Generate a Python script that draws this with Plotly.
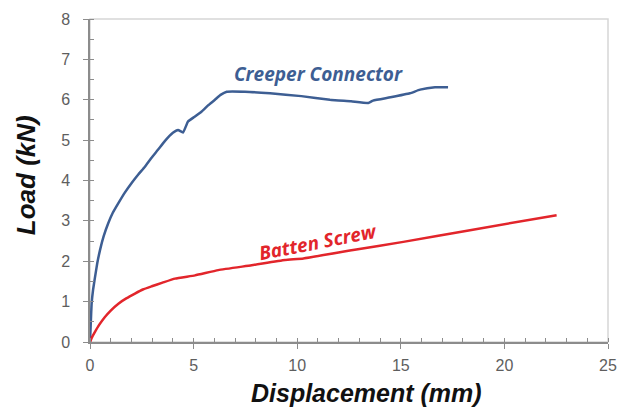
import plotly.graph_objects as go

# Creeper Connector load-displacement curve
creeper_x = [0, 0.04, 0.08, 0.15, 0.24, 0.35, 0.48, 0.66, 0.88, 1.1, 1.37, 1.68, 2.01, 2.33, 2.65, 2.95,
             3.28, 3.62, 4.0, 4.25, 4.49, 4.73, 5.05, 5.39, 5.7, 6.03, 6.3, 6.6, 7.48,
             8.69, 10.2, 11.58, 12.6, 13.43, 13.66, 14.5, 15.44, 15.93, 16.65, 17.28]
creeper_y = [0, 0.5, 0.96, 1.3, 1.6, 1.95, 2.27, 2.62, 2.94, 3.2, 3.44, 3.7, 3.94, 4.15, 4.34, 4.55,
             4.76, 4.98, 5.18, 5.25, 5.19, 5.46, 5.58, 5.71, 5.86, 6.0, 6.12, 6.2, 6.2,
             6.16, 6.09, 6.0, 5.96, 5.92, 5.98, 6.06, 6.16, 6.25, 6.31, 6.31]

# Batten Screw load-displacement curve
batten_x = [0, 0.1, 0.24, 0.45, 0.72, 1.0, 1.37, 1.75, 2.17, 2.55, 2.98, 3.5, 4.1, 5.07, 6.19, 7.8, 9.41,
            10.3, 12.7, 15.12, 18.34, 22.52]
batten_y = [0, 0.12, 0.25, 0.43, 0.62, 0.78, 0.95, 1.08, 1.2, 1.3, 1.38, 1.47, 1.57, 1.65, 1.78, 1.9, 2.03,
            2.07, 2.28, 2.48, 2.77, 3.14]

x_ticks = [0, 5, 10, 15, 20, 25]
y_ticks = [0, 1, 2, 3, 4, 5, 6, 7, 8]

BLUE = "#3d5e93"
RED = "#e2252b"
AXIS = "#8c8c8c"
TICKFONT = dict(family="Liberation Sans, Arial", size=16, color="#5e5e5e")
TITLEFONT = "Liberation Sans, Arial"

fig = go.Figure()
fig.add_trace(go.Scatter(x=creeper_x, y=creeper_y, mode="lines",
                         line=dict(color=BLUE, width=2.5, shape="spline", smoothing=0.4),
                         name="Creeper Connector"))
fig.add_trace(go.Scatter(x=batten_x, y=batten_y, mode="lines",
                         line=dict(color=RED, width=2.5, shape="spline", smoothing=0.4),
                         name="Batten Screw"))

# light frame (top/right)
fig.add_shape(type="rect", xref="paper", yref="paper", x0=0, y0=0, x1=1, y1=1,
              line=dict(color="#d6d6d6", width=1.5), layer="below")

fig.add_annotation(x=11.05, y=6.64, text="<b><i>Creeper Connector</i></b>", showarrow=False,
                   font=dict(family="Open Sans", size=19, color=BLUE))
fig.add_annotation(x=11.0, y=2.47, text="<b><i>Batten Screw</i></b>", showarrow=False, textangle=-11,
                   font=dict(family="Open Sans", size=19, color=RED))

# axis titles
fig.add_annotation(xref="paper", yref="paper", x=0.534, y=-0.158, xanchor="center", yanchor="middle",
                   text="<b><i>Displacement (mm)</i></b>", showarrow=False,
                   font=dict(family=TITLEFONT, size=25, color="#111111"))
fig.add_annotation(xref="paper", yref="paper", x=-0.1245, y=0.515, xanchor="center", yanchor="middle",
                   text="<b><i>Load (kN)</i></b>", showarrow=False, textangle=-90,
                   font=dict(family=TITLEFONT, size=26, color="#111111"))

fig.update_xaxes(range=[0, 25], tickvals=x_ticks, ticktext=[str(v) for v in x_ticks],
                 showgrid=False, zeroline=False, showline=True, linecolor=AXIS, linewidth=1.5,
                 ticks="outside", ticklen=5, tickcolor=AXIS, tickfont=TICKFONT,
                 ticklabelstandoff=3, automargin=False,
                 minor=dict(dtick=1, ticks="inside", ticklen=4, tickcolor=AXIS, showgrid=False))
fig.update_yaxes(range=[0, 8], tickvals=y_ticks, ticktext=[str(v) for v in y_ticks],
                 showgrid=False, zeroline=False, showline=True, linecolor=AXIS, linewidth=1.5,
                 ticks="outside", ticklen=5, tickcolor=AXIS, tickfont=TICKFONT,
                 ticklabelstandoff=10, automargin=False,
                 minor=dict(dtick=0.5, ticks="inside", ticklen=4, tickcolor=AXIS, showgrid=False))

# the page body adds an 8px offset, so the figure is sized/margined to compensate
fig.update_layout(width=624, height=402, margin=dict(l=82, r=24, t=11, b=68),
                  paper_bgcolor="white", plot_bgcolor="white", showlegend=False)

fig.write_html("out.html")
